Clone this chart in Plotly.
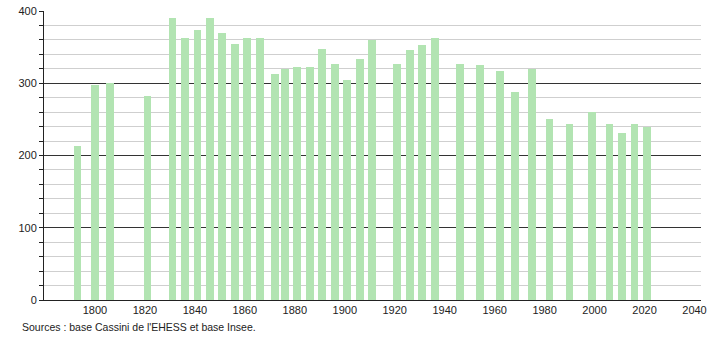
import plotly.graph_objects as go

years = [1793, 1800, 1806, 1821, 1831, 1836, 1841, 1846, 1851, 1856, 1861, 1866,
         1872, 1876, 1881, 1886, 1891, 1896, 1901, 1906, 1911, 1921, 1926, 1931,
         1936, 1946, 1954, 1962, 1968, 1975, 1982, 1990, 1999, 2006, 2011, 2016, 2021]
population = [213, 297, 301, 283, 390, 363, 374, 390, 369, 354, 363, 363,
              313, 320, 323, 323, 347, 327, 304, 333, 360, 327, 346, 353,
              362, 327, 325, 317, 288, 320, 250, 243, 260, 243, 231, 243, 240]
x_ticks = [1800, 1820, 1840, 1860, 1880, 1900, 1920, 1940, 1960, 1980, 2000, 2020, 2040]
y_ticks = [0, 100, 200, 300, 400]
source_text = "Sources : base Cassini de l'EHESS et base Insee."

fig = go.Figure(go.Bar(
    x=years, y=population, width=3.1,
    marker=dict(color="rgb(178,228,178)", line=dict(width=0)),
    hoverinfo="x+y",
))

fig.update_layout(
    width=710, height=340,
    margin=dict(l=44, r=9, t=11, b=40),
    paper_bgcolor="white", plot_bgcolor="white",
    font=dict(family="Liberation Sans, Arial, sans-serif", size=11, color="#222"),
    showlegend=False,
    bargap=0,
    xaxis=dict(
        range=[1779.6, 2042.6], tickvals=x_ticks, ticks="", showgrid=False,
        showline=True, linecolor="#222", linewidth=1, zeroline=False,
        tickfont=dict(size=11), ticklen=0, automargin=False,
    ),
    yaxis=dict(
        range=[0, 400], tickvals=y_ticks, showgrid=True, gridcolor="#333",
        gridwidth=1, ticks="outside", ticklen=4, tickcolor="#222",
        showline=True, linecolor="#222", linewidth=1, zeroline=False,
        tickfont=dict(size=11), automargin=False,
        minor=dict(dtick=20, showgrid=True, gridcolor="#cfcfcf", gridwidth=1,
                   ticks="outside", ticklen=4, tickcolor="#222"),
    ),
    annotations=[dict(
        text=source_text, xref="paper", yref="paper", x=-24/657, y=-19/289,
        xanchor="left", yanchor="top", showarrow=False,
        font=dict(size=10.5, color="#222"),
    )],
)

fig.write_html("out.html")
